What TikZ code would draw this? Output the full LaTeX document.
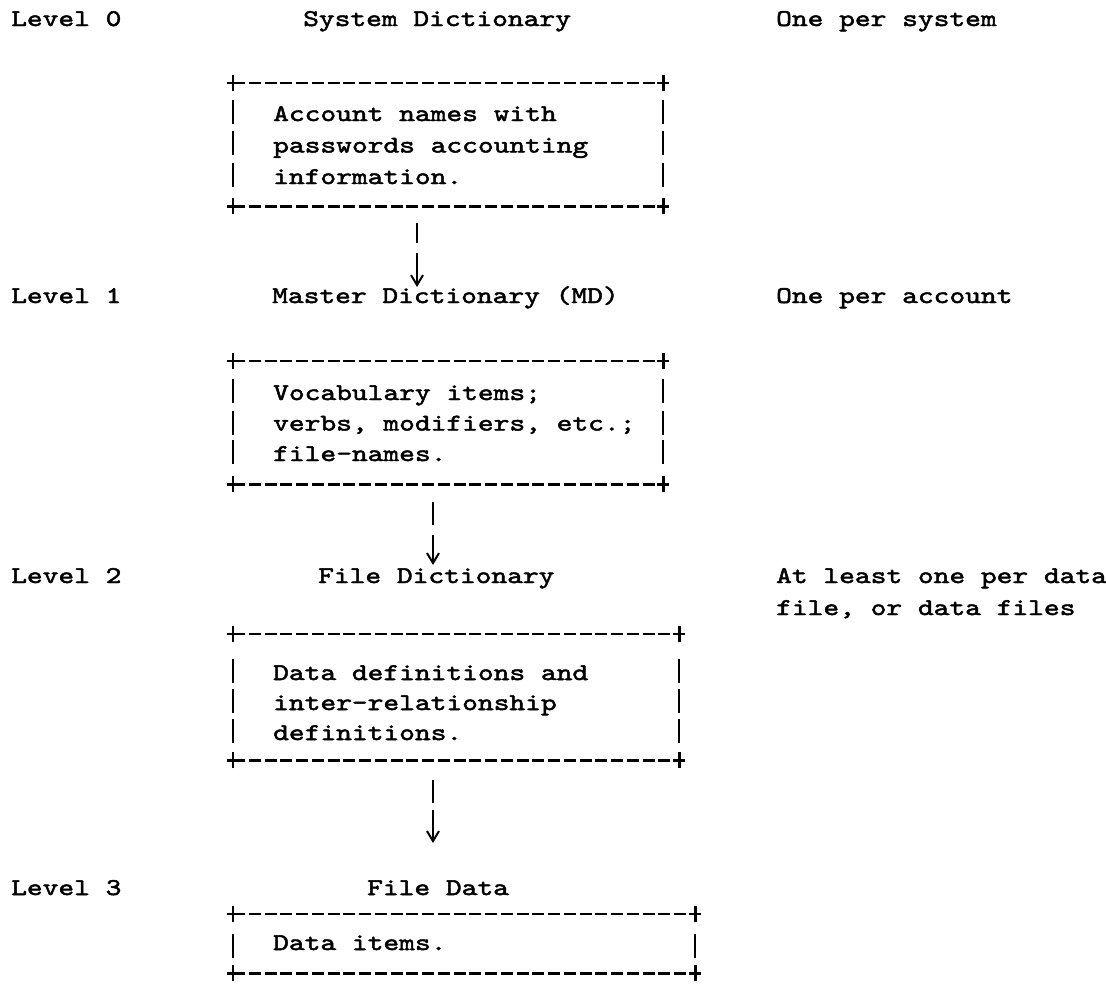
\documentclass[tikz,border=0pt]{standalone}
\usepackage{fontspec}
\usetikzlibrary{arrows.meta}
\newfontfamily\tw{lmmono10-regular.otf}[FakeBold=2,FakeStretch=1.25]

\tikzset{
  txt/.style={font=\tw\fontsize{24}{31}\selectfont, anchor=base west, inner sep=0pt},
  boxarea/.style={draw=none, inner sep=0pt, anchor=north west},
  hrule/.style={line width=2.6pt, dash pattern=on 12pt off 3.75pt},
  vbar/.style={line width=2.4pt},
  link/.style={vbar, -{Straight Barb[length=10pt,width=12pt,line width=2pt]}},
}

% box with +---+ edges: name, left, top, right, bottom
\newcommand\tbox[5]{%
  \node[boxarea, minimum width={#4-#2}, minimum height={#5-#3}] (#1) at (#2,-#3) {};
  \draw[hrule] (#1.north west) -- (#1.north east);
  \draw[hrule] (#1.south west) -- (#1.south east);
  \foreach \c in {north west,north east,south west,south east}
    \draw[vbar] (#1.\c) ++(-6,0) -- ++(12,0) (#1.\c) ++(0,-8) -- ++(0,16);
}

\begin{document}
\begin{tikzpicture}[x=1pt,y=1pt]
\useasboundingbox (0,0) rectangle (1106,-983);

% level labels
\node[txt] (lv0) at (11,-26) {Level 0};
\node[txt] (lv1) at (11,-303) {Level 1};
\node[txt] (lv2) at (11,-583) {Level 2};
\node[txt] (lv3) at (11,-895) {Level 3};

% headings
\node[txt] (h0) at (303,-26) {System Dictionary};
\node[txt] (h1) at (272,-303) {Master Dictionary (MD)};
\node[txt] (h2) at (318,-583) {File Dictionary};
\node[txt] (h3) at (367,-895) {File Data};

% right column
\node[txt] (r0) at (776,-26) {One per system};
\node[txt] (r1) at (776,-303) {One per account};
\node[txt] (r2) at (776,-583) {At least one per data};
\node[txt] (r2b) at (776,-615) {file, or data files};

% boxes
\tbox{b1}{233}{83}{663}{206}
\tbox{b2}{233}{361}{663}{484}
\tbox{b3}{233}{634}{679}{760}
\tbox{b4}{233}{914}{695}{973}

\foreach \yb in {121,152,184} {
  \draw[vbar] (233,-\yb+21) -- ++(0,-24);
  \draw[vbar] (663,-\yb+21) -- ++(0,-24);
}
\foreach \yb in {400,432,461} {
  \draw[vbar] (233,-\yb+21) -- ++(0,-24);
  \draw[vbar] (663,-\yb+21) -- ++(0,-24);
}
\foreach \yb in {680,710,740} {
  \draw[vbar] (233,-\yb+21) -- ++(0,-24);
  \draw[vbar] (679,-\yb+21) -- ++(0,-24);
}
\draw[vbar] (233,-934) -- ++(0,-24);
\draw[vbar] (695,-934) -- ++(0,-24);

% box texts
\foreach \t [count=\i] in {Account names with, passwords accounting, information.}
  \node[txt] (b1l\i) at (273,{-121-31.5*(\i-1)}) {\t};
\foreach \t [count=\i] in {Vocabulary items;, {verbs, modifiers, etc.;}, file-names.}
  \node[txt] (b2l\i) at (273,{-400-30.5*(\i-1)}) {\t};
\foreach \t [count=\i] in {Data definitions and, inter-relationship, definitions.}
  \node[txt] (b3l\i) at (273,{-680-30*(\i-1)}) {\t};
\node[txt] (b4l1) at (273,-950) {Data items.};

% arrows
\coordinate (a1t) at (417,-223);
\coordinate (a1h) at (417,-287);
\coordinate (a2t) at (433,-502);
\coordinate (a2h) at (433,-565);
\coordinate (a3t) at (433,-780);
\coordinate (a3h) at (433,-843);
\draw[link, dash pattern=on 20pt off 10pt on 200pt] (a1t) -- (a1h);
\draw[link, dash pattern=on 23pt off 10pt on 200pt] (a2t) -- (a2h);
\draw[link, dash pattern=on 23pt off 7pt on 200pt] (a3t) -- (a3h);
\end{tikzpicture}
\end{document}
